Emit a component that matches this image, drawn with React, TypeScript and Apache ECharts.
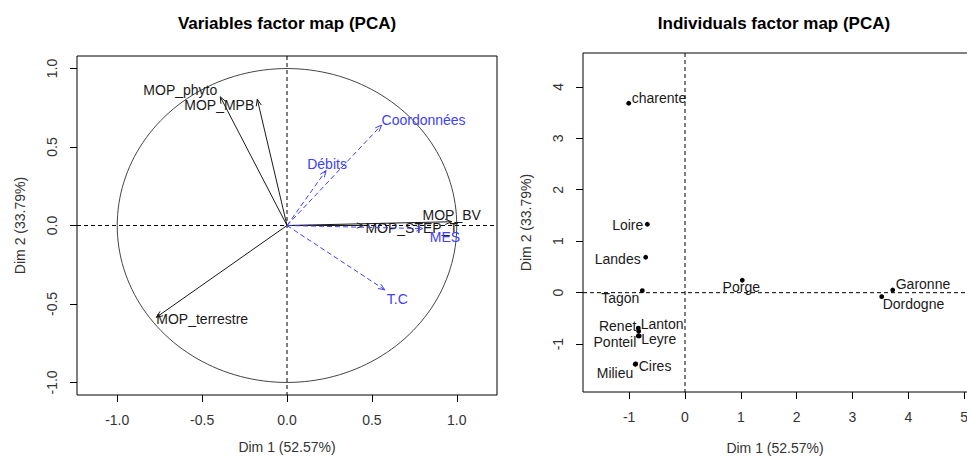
import React, { useEffect, useRef } from "react";
import * as echarts from "echarts";

// ---- Data: variables factor map ----
const activeNames = ["MOP_phyto", "MOP_MPB", "MOP_terrestre", "MOP_BV", "MOP_STEP_T"];
const activeDim1 = [-0.393, -0.175, -0.77, 0.97, 0.45];
const activeDim2 = [0.82, 0.804, -0.585, 0.024, 0.0];

const supNames = ["Coordonnées", "Débits", "MES", "T.C"];
const supDim1 = [0.557, 0.23, 0.8, 0.576];
const supDim2 = [0.64, 0.35, -0.02, -0.41];

// ---- Data: individuals factor map ----
const indNames = ["charente", "Loire", "Landes", "Tagon", "Porge", "Garonne", "Dordogne", "Renet", "Lanton", "Ponteil", "Leyre", "Cires", "Milieu"];
const indDim1 = [-1.008, -0.675, -0.704, -0.765, 1.026, 3.72, 3.523, -0.836, -0.83, -0.836, -0.82, -0.883, -0.89];
const indDim2 = [3.68, 1.329, 0.688, 0.039, 0.241, 0.052, -0.078, -0.69, -0.75, -0.84, -0.84, -1.385, -1.39];

// ---- Tick labels ----
const varTicks = [-1, -0.5, 0, 0.5, 1];
const indXTicks = [-1, 0, 1, 2, 3, 4, 5];
const indYTicks = [-1, 0, 1, 2, 3, 4];

const xTitle = "Dim 1 (52.57%)";
const yTitle = "Dim 2 (33.79%)";

// ---- Label placement (style only) ----
type Pl = { align: string; dx: number; dy: number };
const varLabelPl: Record<string, Pl> = {
  MOP_phyto: { align: "right", dx: -3, dy: -7 },
  MOP_MPB: { align: "right", dx: -3, dy: 6 },
  MOP_terrestre: { align: "left", dx: 0, dy: 2 },
  MOP_BV: { align: "center", dx: 0, dy: -7 },
  MOP_STEP_T: { align: "left", dx: 2, dy: 2 },
  "Coordonnées": { align: "left", dx: 0, dy: -5 },
  "Débits": { align: "center", dx: 1, dy: -7 },
  MES: { align: "left", dx: 7, dy: 8 },
  "T.C": { align: "left", dx: 2, dy: 9 },
};
const indLabelPl: Record<string, Pl> = {
  charente: { align: "left", dx: 3, dy: -5 },
  Loire: { align: "right", dx: -4, dy: 1 },
  Landes: { align: "right", dx: -5, dy: 2 },
  Tagon: { align: "right", dx: -3, dy: 7 },
  Porge: { align: "center", dx: -1, dy: 7 },
  Garonne: { align: "left", dx: 3, dy: -6 },
  Dordogne: { align: "left", dx: 1, dy: 7 },
  Renet: { align: "right", dx: -2, dy: -2 },
  Lanton: { align: "left", dx: 2, dy: -7 },
  Ponteil: { align: "right", dx: -2, dy: 6 },
  Leyre: { align: "left", dx: 2, dy: 3 },
  Cires: { align: "left", dx: 3, dy: 2 },
  Milieu: { align: "right", dx: -2, dy: 9 },
};

const FONT = '"Liberation Sans", Arial, sans-serif';
const BLUE = "#4040ff";
const TXT = "#1a1a1a";

function arrowRender(names: string[], color: string, dashed: boolean) {
  return (params: any, api: any) => {
    const x = api.value(0);
    const y = api.value(1);
    const o = api.coord([0, 0]);
    const p = api.coord([x, y]);
    const ang = Math.atan2(p[1] - o[1], p[0] - o[0]);
    const L = 7;
    const a = (22 * Math.PI) / 180;
    const h1 = [p[0] - L * Math.cos(ang - a), p[1] - L * Math.sin(ang - a)];
    const h2 = [p[0] - L * Math.cos(ang + a), p[1] - L * Math.sin(ang + a)];
    const name = names[params.dataIndex];
    const pl = varLabelPl[name];
    return {
      type: "group",
      children: [
        {
          type: "line",
          shape: { x1: o[0], y1: o[1], x2: p[0], y2: p[1] },
          style: { stroke: color, lineWidth: 1, lineDash: dashed ? [5, 3] : null, fill: null },
        },
        {
          type: "polyline",
          shape: { points: [h1, p, h2] },
          style: { stroke: color, lineWidth: 1, fill: null },
        },
        {
          type: "text",
          x: p[0] + pl.dx,
          y: p[1] + pl.dy,
          style: {
            text: name,
            fill: color === BLUE ? BLUE : TXT,
            fontSize: 14,
            fontFamily: FONT,
            align: pl.align,
            verticalAlign: "middle",
          },
        },
      ],
    };
  };
}

function frameRender(withCircle: boolean) {
  return (params: any, api: any) => {
    const cs = params.coordSys;
    const o = api.coord([0, 0]);
    const children: any[] = [];
    if (withCircle) {
      const pts: number[][] = [];
      for (let i = 0; i <= 180; i++) {
        const t = (i / 180) * Math.PI * 2;
        pts.push(api.coord([Math.cos(t), Math.sin(t)]));
      }
      children.push({ type: "polyline", shape: { points: pts }, style: { stroke: "#444", lineWidth: 1, fill: null } });
    }
    children.push({
      type: "line",
      shape: { x1: cs.x, y1: o[1], x2: cs.x + cs.width, y2: o[1] },
      style: { stroke: "#000", lineWidth: 1, lineDash: [4, 3] },
    });
    children.push({
      type: "line",
      shape: { x1: o[0], y1: cs.y, x2: o[0], y2: cs.y + cs.height },
      style: { stroke: "#000", lineWidth: 1, lineDash: [4, 3] },
    });
    return { type: "group", children };
  };
}

function indRender(params: any, api: any) {
  const p = api.coord([api.value(0), api.value(1)]);
  const name = indNames[params.dataIndex];
  const pl = indLabelPl[name];
  return {
    type: "group",
    children: [
      { type: "circle", shape: { cx: p[0], cy: p[1], r: 2.4 }, style: { fill: "#000" } },
      {
        type: "text",
        x: p[0] + pl.dx,
        y: p[1] + pl.dy,
        style: { text: name, fill: TXT, fontSize: 14, fontFamily: FONT, align: pl.align, verticalAlign: "middle" },
      },
    ],
  };
}

function makeXAxis(gridIndex: number, min: number, max: number, ticks: number[], fmt: (v: number) => string, name: string) {
  return {
    type: "value",
    gridIndex,
    position: "bottom",
    min,
    max,
    axisLine: { show: false, onZero: false },
    splitLine: { show: false },
    axisTick: { show: true, inside: false, length: 7, customValues: ticks, lineStyle: { color: "#000", width: 1 } },
    axisLabel: { customValues: ticks, formatter: fmt, fontSize: 14, fontFamily: FONT, color: "#333", margin: 18 },
    name,
    nameLocation: "middle",
    nameGap: 45,
    nameTextStyle: { fontSize: 14, fontFamily: FONT, color: "#333" },
  };
}

function makeYAxis(gridIndex: number, min: number, max: number, ticks: number[], fmt: (v: number) => string) {
  return {
    type: "value",
    gridIndex,
    position: "left",
    min,
    max,
    axisLine: { show: false, onZero: false },
    splitLine: { show: false },
    axisTick: { show: true, inside: false, length: 7, customValues: ticks, lineStyle: { color: "#000", width: 1 } },
    axisLabel: { customValues: ticks, formatter: fmt, fontSize: 14, fontFamily: FONT, color: "#333", margin: 18, rotate: 90 },
    name: yTitle,
    nameLocation: "middle",
    nameGap: 50,
    nameTextStyle: { fontSize: 14, fontFamily: FONT, color: "#333" },
  };
}

export default function App() {
  const ref = useRef<HTMLDivElement>(null);
  useEffect(() => {
    if (!ref.current) return;
    const chart = echarts.init(ref.current, null, { renderer: "svg" });
    const f1 = (v: number) => v.toFixed(1);
    const f0 = (v: number) => String(Math.round(v));
    chart.setOption({
      animation: false,
      backgroundColor: "#fff",
      grid: [
        { left: 77, top: 56, width: 420, height: 339, show: true, borderColor: "#000", borderWidth: 1, backgroundColor: "transparent" },
        { left: 583, top: 53, width: 400, height: 339, show: true, borderColor: "#000", borderWidth: 1, backgroundColor: "transparent" },
      ],
      xAxis: [
        makeXAxis(0, -1.237, 1.237, varTicks, f1, xTitle),
        makeXAxis(1, -1.827, 5.337, indXTicks, f0, ""),
      ],
      yAxis: [
        makeYAxis(0, -1.08, 1.08, varTicks, f1),
        makeYAxis(1, -1.93, 4.657, indYTicks, f0),
      ],
      graphic: [
        { type: "text", x: 287, y: 23, style: { text: "Variables factor map (PCA)", fontSize: 17, fontWeight: "bold", fontFamily: FONT, fill: "#000", align: "center", verticalAlign: "middle" } },
        { type: "text", x: 774, y: 23, style: { text: "Individuals factor map (PCA)", fontSize: 17, fontWeight: "bold", fontFamily: FONT, fill: "#000", align: "center", verticalAlign: "middle" } },
        { type: "text", x: 775, y: 448, style: { text: xTitle, fontSize: 14, fontFamily: FONT, fill: "#333", align: "center", verticalAlign: "middle" } },
      ],
      series: [
        { type: "custom", xAxisIndex: 0, yAxisIndex: 0, data: [[0, 0]], renderItem: frameRender(true), silent: true },
        {
          type: "custom", xAxisIndex: 0, yAxisIndex: 0, silent: true,
          data: activeDim1.map((x, i) => [x, activeDim2[i]]),
          renderItem: arrowRender(activeNames, "#1a1a1a", false),
        },
        {
          type: "custom", xAxisIndex: 0, yAxisIndex: 0, silent: true,
          data: supDim1.map((x, i) => [x, supDim2[i]]),
          renderItem: arrowRender(supNames, BLUE, true),
        },
        { type: "custom", xAxisIndex: 1, yAxisIndex: 1, data: [[0, 0]], renderItem: frameRender(false), silent: true },
        {
          type: "custom", xAxisIndex: 1, yAxisIndex: 1, silent: true,
          data: indDim1.map((x, i) => [x, indDim2[i]]),
          renderItem: indRender,
        },
      ],
    });
    return () => chart.dispose();
  }, []);
  return (
    <div style={{ position: "absolute", left: 0, top: 0, width: 967, height: 460, overflow: "hidden" }}>
      <div ref={ref} style={{ width: 990, height: 460 }} />
    </div>
  );
}
